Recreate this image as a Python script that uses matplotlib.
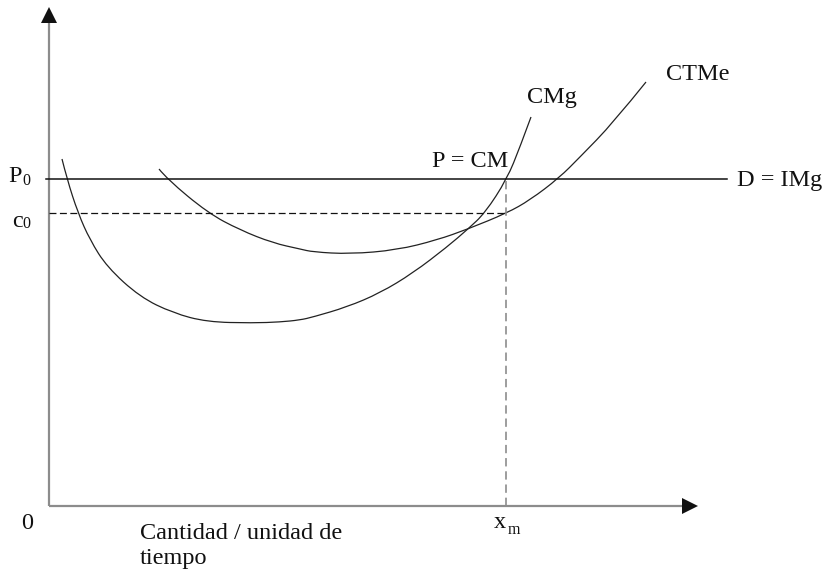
import matplotlib
matplotlib.use('Agg')
import matplotlib.pyplot as plt
from matplotlib.path import Path
from matplotlib.patches import PathPatch

# cost curves (quantity, cost), origin at the axes corner
cmg_q = [13, 18, 29, 41, 58, 91, 124, 158, 204, 231, 251, 264, 298, 331, 364, 398, 419, 436, 458, 471, 482]
cmg_c = [347, 327, 293, 266, 239, 209, 193, 184, 183, 184, 186, 189, 199, 213, 233, 259, 277, 293, 327, 359, 389]

ctme_q = [110, 118, 159, 191, 224, 251, 264, 301, 348, 388, 419, 458, 481, 510, 531, 564, 597]
ctme_c = [337, 327, 293, 276, 263, 257, 254, 252, 256, 266, 277, 293, 306, 328, 349, 383, 424]

p0 = 327      # price level (demand = marginal revenue)
c0 = 293      # average cost at x_m
xm = 457      # quantity where P = CMg
d_end = 678   # where the D = IMg line stops

y_top = 483
x_right = 634

plt.rcParams['lines.scale_dashes'] = False
serif = 'Liberation Serif'
fs = 17.5


def smooth_curve(ax, xs, ys, **kw):
    # quadratic bezier through midpoints, read points act as control points
    pts = list(zip(xs, ys))
    verts = [pts[0]]
    codes = [Path.MOVETO]
    for i in range(1, len(pts) - 1):
        mid = ((pts[i][0] + pts[i + 1][0]) / 2, (pts[i][1] + pts[i + 1][1]) / 2)
        if i == len(pts) - 2:
            mid = pts[-1]
        verts += [pts[i], mid]
        codes += [Path.CURVE3, Path.CURVE3]
    ax.add_patch(PathPatch(Path(verts, codes), fill=False, **kw))


fig = plt.figure(figsize=(8.24, 5.73), dpi=100)
ax = fig.add_axes([0, 0, 1, 1])
ax.set_xlim(-49, 775)
ax.set_ylim(-67, 506)
ax.axis('off')

# axes with arrow heads
ax.plot([0, 0], [0, y_top], color='#8c8c8c', lw=1.6, solid_capstyle='butt')
ax.plot([0, x_right], [0, 0], color='#8c8c8c', lw=1.6, solid_capstyle='butt')
ax.plot([0], [y_top + 8], marker='^', ms=11.5, color='#111111', mew=0)
ax.plot([x_right + 7], [0], marker='>', ms=11.5, color='#111111', mew=0)

# price line and dashed guides
ax.plot([-3, d_end], [p0, p0], color='#111111', lw=1.1)
ax.plot([0, xm], [c0, c0], color='#111111', lw=0.9, dashes=(5, 2.5))
ax.plot([xm, xm], [0, p0], color='#8c8c8c', lw=1.2, dashes=(6, 3.5))

# curves
smooth_curve(ax, cmg_q, cmg_c, edgecolor='#222222', lw=0.9)
smooth_curve(ax, ctme_q, ctme_c, edgecolor='#222222', lw=0.9)

txt = dict(family=serif, fontsize=fs, color='#111111', va='baseline')
sub = dict(family=serif, fontsize=11.5, color='#111111', va='baseline')

ax.text(-41, 324, 'P', **txt)
ax.text(-27, 321, '0', **sub)
ax.text(-37, 279, 'c', **txt)
ax.text(-27, 278, '0', **sub)
ax.text(-22, -23, '0', ha='center', **txt)
ax.text(445, -22, 'x', **txt)
ax.text(459, -28, 'm', **sub)
ax.text(91, -33, 'Cantidad / unidad de', **txt)
ax.text(91, -58, 'tiempo', **txt)
ax.text(383, 339, 'P = CM', **txt)
ax.text(478, 403, 'CMg', **txt)
ax.text(617, 426, 'CTMe', **txt)
ax.text(688, 320, 'D = IMg', **txt)

fig.savefig('out.png', dpi=100)
